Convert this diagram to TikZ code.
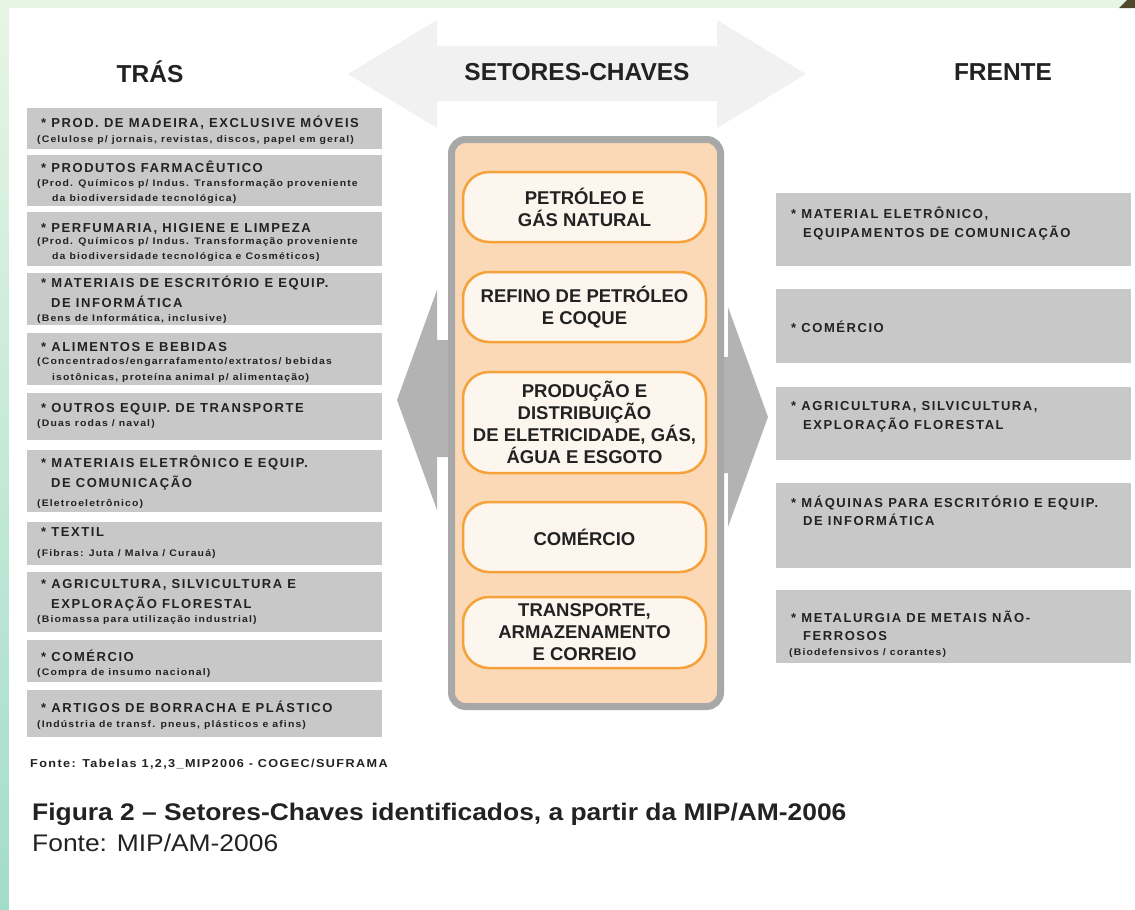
\documentclass[tikz,border=0pt]{standalone}
\usepackage{fontspec}
\setmainfont{Liberation Sans}
\newfontfamily\spacedfont[LetterSpace=12]{Liberation Sans}
\newfontfamily\widefont[LetterSpace=12,FakeStretch=1.1]{Liberation Sans}
\newfontfamily\capfont[FakeStretch=1.1]{Liberation Sans}
\definecolor{bggreen}{HTML}{E7F5E4}
\definecolor{bgteal}{HTML}{A2DCCB}
\definecolor{darkolive}{HTML}{4F4A2C}
\definecolor{toparrow}{HTML}{F1F1F1}
\definecolor{sidearrow}{HTML}{B3B3B3}
\definecolor{boxgray}{HTML}{C8C8C8}
\definecolor{outergray}{HTML}{A8A8A8}
\definecolor{peach}{HTML}{FCD9B6}
\definecolor{orangeline}{HTML}{F6A23A}
\definecolor{itemfill}{HTML}{FDF6EF}
\definecolor{txt}{HTML}{222222}
\tikzset{
  graybox/.style={fill=boxgray, draw=none, anchor=north west, minimum width=355, inner sep=0},
  hd/.style={anchor=base west, inner sep=0, text=txt, font=\spacedfont\bfseries\fontsize{13}{15}\selectfont},
  sb/.style={anchor=base west, inner sep=0, text=txt, font=\widefont\bfseries\fontsize{9.5}{11}\selectfont},
  item/.style={draw=orangeline, line width=2.5, fill=itemfill, rounded corners=26, minimum width=243, inner sep=0, align=center, text=txt, font=\bfseries\fontsize{18.5}{22}\selectfont},
  header/.style={inner sep=0, text=txt, font=\bfseries\fontsize{24.5}{28}\selectfont}
}
\begin{document}
\begin{tikzpicture}[x=1pt,y=-1pt]
\useasboundingbox (0,0) rectangle (1135,910);
% page background
\fill[bggreen] (0,0) rectangle (1135,910);
\shade[top color=bggreen, bottom color=bgteal] (0,0) rectangle (9,910);
\fill[white] (9,8) rectangle (1135,910);
\fill[darkolive] (1119,8) -- (1127,0) -- (1135,0) -- (1135,8) -- cycle;
% top double arrow
\fill[toparrow] (348,74) -- (437,20) -- (437,46) -- (717,46) -- (717,20) -- (806,74)
  -- (717,128) -- (717,101) -- (437,101) -- (437,128) -- cycle;
% side arrows
\fill[sidearrow] (397,400) -- (437,290) -- (437,340) -- (470,340) -- (470,457) -- (437,457) -- (437,510) -- cycle;
\fill[sidearrow] (768,417) -- (728,307) -- (728,357) -- (700,357) -- (700,473) -- (728,473) -- (728,527) -- cycle;
% headers
\node[header] (hTras) at (150,72) {TRÁS};
\node[header] (hSet) at (577,72) {SETORES-CHAVES};
\node[header] (hFre) at (1003,72) {FRENTE};
% center box
\node[draw=outergray, line width=7, fill=peach, rounded corners=14, minimum width=269, minimum height=567, anchor=north west, inner sep=0] (CB) at (448,136) {};
\node[item, minimum height=70] (C1) at (584.5,207) {PETRÓLEO E\\GÁS NATURAL};
\node[item, minimum height=70] (C2) at (584.5,307) {REFINO DE PETRÓLEO\\E COQUE};
\node[item, minimum height=101] (C3) at (584.5,422.5) {PRODUÇÃO E\\DISTRIBUIÇÃO\\DE ELETRICIDADE, GÁS,\\ÁGUA E ESGOTO};
\node[item, minimum height=70] (C4) at (584.5,537) {COMÉRCIO};
\node[item, minimum height=71] (C5) at (584.5,632.5) {TRANSPORTE,\\ARMAZENAMENTO\\E CORREIO};
% left boxes
\node[graybox, minimum height=41] (L1) at (27,108) {};
\node[hd] (L1a) at (41,127) {* PROD. DE MADEIRA, EXCLUSIVE MÓVEIS};
\node[sb] (L1b) at (37,142) {(Celulose p/ jornais, revistas, discos, papel em geral)};
\node[graybox, minimum height=51] (L2) at (27,155) {};
\node[hd] (L2a) at (41,172) {* PRODUTOS FARMACÊUTICO};
\node[sb] (L2b) at (37,186) {(Prod. Químicos p/ Indus. Transformação proveniente};
\node[sb] (L2c) at (52,201) {da biodiversidade tecnológica)};
\node[graybox, minimum height=54] (L3) at (27,212) {};
\node[hd] (L3a) at (41,232) {* PERFUMARIA, HIGIENE E LIMPEZA};
\node[sb] (L3b) at (37,244) {(Prod. Químicos p/ Indus. Transformação proveniente};
\node[sb] (L3c) at (52,259) {da biodiversidade tecnológica e Cosméticos)};
\node[graybox, minimum height=52] (L4) at (27,273) {};
\node[hd] (L4a) at (41,287) {* MATERIAIS DE ESCRITÓRIO E EQUIP.};
\node[hd] (L4b) at (51,307) {DE INFORMÁTICA};
\node[sb] (L4c) at (37,321) {(Bens de Informática, inclusive)};
\node[graybox, minimum height=52] (L5) at (27,333) {};
\node[hd] (L5a) at (41,351) {* ALIMENTOS E BEBIDAS};
\node[sb] (L5b) at (37,364) {(Concentrados/engarrafamento/extratos/ bebidas};
\node[sb] (L5c) at (52,380) {isotônicas, proteína animal p/ alimentação)};
\node[graybox, minimum height=47] (L6) at (27,393) {};
\node[hd] (L6a) at (41,412) {* OUTROS EQUIP. DE TRANSPORTE};
\node[sb] (L6b) at (37,426) {(Duas rodas / naval)};
\node[graybox, minimum height=62] (L7) at (27,450) {};
\node[hd] (L7a) at (41,467) {* MATERIAIS ELETRÔNICO E EQUIP.};
\node[hd] (L7b) at (51,487) {DE COMUNICAÇÃO};
\node[sb] (L7c) at (37,506) {(Eletroeletrônico)};
\node[graybox, minimum height=43] (L8) at (27,522) {};
\node[hd] (L8a) at (41,536) {* TEXTIL};
\node[sb] (L8b) at (37,556) {(Fibras: Juta / Malva / Curauá)};
\node[graybox, minimum height=60] (L9) at (27,572) {};
\node[hd] (L9a) at (41,588) {* AGRICULTURA, SILVICULTURA E};
\node[hd] (L9b) at (51,608) {EXPLORAÇÃO FLORESTAL};
\node[sb] (L9c) at (37,622) {(Biomassa para utilização industrial)};
\node[graybox, minimum height=42] (L10) at (27,640) {};
\node[hd] (L10a) at (41,661) {* COMÉRCIO};
\node[sb] (L10b) at (37,675) {(Compra de insumo nacional)};
\node[graybox, minimum height=47] (L11) at (27,690) {};
\node[hd] (L11a) at (41,712) {* ARTIGOS DE BORRACHA E PLÁSTICO};
\node[sb] (L11b) at (37,727) {(Indústria de transf. pneus, plásticos e afins)};
% right boxes
\node[graybox, minimum height=73] (R1) at (776,193) {};
\node[hd] (R1a) at (791,218) {* MATERIAL ELETRÔNICO,};
\node[hd] (R1b) at (803,237) {EQUIPAMENTOS DE COMUNICAÇÃO};
\node[graybox, minimum height=74] (R2) at (776,289) {};
\node[hd] (R2a) at (791,332) {* COMÉRCIO};
\node[graybox, minimum height=73] (R3) at (776,387) {};
\node[hd] (R3a) at (791,410) {* AGRICULTURA, SILVICULTURA,};
\node[hd] (R3b) at (803,429) {EXPLORAÇÃO FLORESTAL};
\node[graybox, minimum height=85] (R4) at (776,483) {};
\node[hd] (R4a) at (791,507) {* MÁQUINAS PARA ESCRITÓRIO E EQUIP.};
\node[hd] (R4b) at (803,525) {DE INFORMÁTICA};
\node[graybox, minimum height=73] (R5) at (776,590) {};
\node[hd] (R5a) at (791,622) {* METALURGIA DE METAIS NÃO-};
\node[hd] (R5b) at (803,640) {FERROSOS};
\node[sb] (R5c) at (789,655) {(Biodefensivos / corantes)};
% sources and caption
\node[sb, font=\widefont\bfseries\fontsize{11.5}{13}\selectfont] (src) at (30,767) {Fonte: Tabelas 1,2,3\_MIP2006 - COGEC/SUFRAMA};
\node[anchor=base west, inner sep=0, text=txt, font=\capfont\bfseries\fontsize{24}{28}\selectfont] (cap) at (32,820) {Figura 2 – Setores-Chaves identificados, a partir da MIP/AM-2006};
\node[anchor=base west, inner sep=0, text=txt, font=\capfont\fontsize{24}{28}\selectfont] (capsrc) at (32,851) {Fonte: MIP/AM-2006};
\end{tikzpicture}
\end{document}
